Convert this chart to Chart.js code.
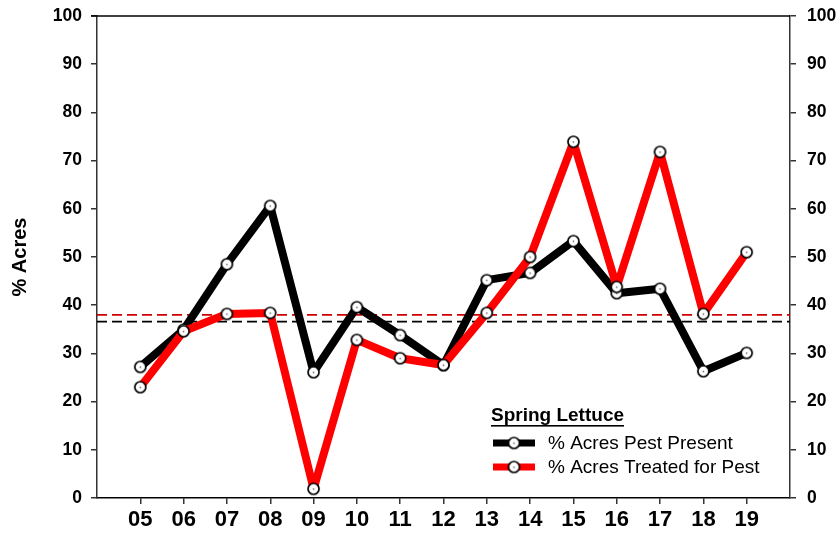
<!DOCTYPE html>
<html>
<head>
<meta charset="utf-8">
<script src="https://cdn.jsdelivr.net/npm/chart.js@4"></script>
<style>
  html, body { margin: 0; padding: 0; background: #fff; }
  #wrap { width: 840px; height: 535px; position: relative; }
</style>
</head>
<body>
<div id="wrap"><canvas id="myChart" width="840" height="535"></canvas></div>
<script>
/* data */
const years = ['05', '06', '07', '08', '09', '10', '11', '12', '13', '14', '15', '16', '17', '18', '19'];
const pestPresent = [27.2, 34.9, 48.5, 60.6, 26.1, 39.6, 33.8, 27.6, 45.2, 46.7, 53.3, 42.5, 43.4, 26.3, 30.1];
const treatedForPest = [23.0, 34.6, 38.2, 38.4, 1.9, 32.8, 29.0, 27.6, 38.4, 50.0, 73.9, 43.8, 71.8, 38.2, 51.0];
const presentAvg = 36.6;
const treatedAvg = 38.0;
const yTicks = [0, 10, 20, 30, 40, 50, 60, 70, 80, 90, 100];
const legendTitle = 'Spring Lettuce';

const FONT = '"Liberation Sans", Arial, sans-serif';
const AXIS = '#333';

function toPoints(vals) {
  return vals.map(function(v, i) { return { x: Number(years[i]), y: v }; });
}
function flat(v) {
  return [{ x: Number(years[0]) - 1, y: v }, { x: Number(years[years.length - 1]) + 1, y: v }];
}

/* marker: white circle with a tiny dot */
function makeMarker() {
  const c = document.createElement('canvas');
  c.width = 15; c.height = 15;
  const g = c.getContext('2d');
  g.beginPath();
  g.arc(7.5, 7.5, 5.5, 0, Math.PI * 2);
  g.fillStyle = '#fff';
  g.fill();
  g.lineWidth = 1.7;
  g.strokeStyle = '#000';
  g.stroke();
  g.beginPath();
  g.arc(7.5, 7.8, 0.8, 0, Math.PI * 2);
  g.fillStyle = '#444';
  g.fill();
  return c;
}
const marker = makeMarker();

/* frame + legend drawn inside chart area */
const extras = {
  id: 'extras',
  afterDraw: function(chart) {
    const ctx = chart.ctx;
    const a = chart.chartArea;
    ctx.save();
    ctx.strokeStyle = '#000';
    ctx.lineWidth = 1.5;
    ctx.beginPath();
    ctx.moveTo(a.left - 6, a.top);
    ctx.lineTo(a.right, a.top);
    ctx.stroke();

    // legend
    const lx = 491, ty = 416;
    ctx.fillStyle = '#000';
    ctx.font = 'bold 19px ' + FONT;
    ctx.textBaseline = 'middle';
    ctx.textAlign = 'left';
    ctx.fillText(legendTitle, lx, ty);
    const w = ctx.measureText(legendTitle).width;
    ctx.fillRect(lx, ty + 9, w, 1.6);

    ctx.font = '19px ' + FONT;
    chart.data.datasets.slice(0, 2).forEach(function(ds, i) {
      const y = 443 + i * 24;
      ctx.strokeStyle = ds.borderColor;
      ctx.lineWidth = 7;
      ctx.beginPath();
      ctx.moveTo(493, y);
      ctx.lineTo(535, y);
      ctx.stroke();
      ctx.drawImage(marker, 514 - 7.5, y - 7.5);
      ctx.fillStyle = '#000';
      ctx.fillText(ds.label, 548, y + 1);
    });
    ctx.restore();
  }
};

function noPad(s) {
  s.paddingTop = 0;
  s.paddingBottom = 0;
}

const ctx = document.getElementById('myChart').getContext('2d');

// eslint-disable-next-line no-undef
const chart = new Chart(ctx, {
  type: 'line',
  data: {
    datasets: [{
      label: '% Acres Pest Present',
      data: toPoints(pestPresent),
      borderColor: '#000',
      borderWidth: 8,
      pointStyle: marker,
      pointRadius: 6,
      order: 2
    },
    {
      label: '% Acres Treated for Pest',
      data: toPoints(treatedForPest),
      borderColor: '#ff0000',
      borderWidth: 8,
      pointStyle: marker,
      pointRadius: 6,
      order: 1
    },
    {
      label: 'present avg',
      data: flat(presentAvg),
      borderColor: '#000',
      borderWidth: 1.8,
      borderDash: [10, 5],
      pointRadius: 0,
      order: 4
    },
    {
      label: 'treated avg',
      data: flat(treatedAvg),
      borderColor: '#d00000',
      borderWidth: 1.8,
      borderDash: [10, 5],
      pointRadius: 0,
      order: 3
    }]
  },
  options: {
    responsive: false,
    animation: false,
    layout: { padding: { top: 16 } },
    plugins: { legend: { display: false }, tooltip: { enabled: false } },
    elements: { line: { tension: 0, borderJoinStyle: 'round' } },
    scales: {
      x: {
        type: 'linear',
        min: 4,
        max: 20,
        afterBuildTicks: function(s) { s.ticks = years.map(function(y) { return { value: Number(y) }; }); },
        afterFit: function(s) { s.height = 37; },
        ticks: {
          callback: function(v) { return String(v).padStart(2, '0'); },
          color: '#000',
          font: { family: FONT, size: 22, weight: 'bold' },
          padding: 3,
          maxRotation: 0,
          autoSkip: false
        },
        grid: { drawOnChartArea: false, tickLength: 6, color: AXIS, lineWidth: 1.5 },
        border: { color: '#000', width: 1.5 }
      },
      y: {
        position: 'left',
        min: 0,
        max: 100,
        afterBuildTicks: function(s) { s.ticks = yTicks.map(function(v) { return { value: v }; }); },
        afterFit: function(s) { s.width = 97; noPad(s); },
        title: { display: true, text: '% Acres', color: '#000', font: { family: FONT, size: 20, weight: 'bold' }, padding: { top: 8, bottom: 0 } },
        ticks: { color: '#000', font: { family: FONT, size: 17.5, weight: 'bold' }, padding: 9 },
        grid: { drawOnChartArea: false, tickLength: 6, color: AXIS, lineWidth: 1.5 },
        border: { color: AXIS, width: 1.5 }
      },
      y2: {
        position: 'right',
        min: 0,
        max: 100,
        afterBuildTicks: function(s) { s.ticks = yTicks.map(function(v) { return { value: v }; }); },
        afterFit: function(s) { s.width = 50; noPad(s); },
        ticks: { color: '#000', font: { family: FONT, size: 17.5, weight: 'bold' }, padding: 11 },
        grid: { drawOnChartArea: false, tickLength: 6, color: AXIS, lineWidth: 1.5 },
        border: { color: AXIS, width: 1.5 }
      }
    }
  },
  plugins: [extras]
});
</script>
</body>
</html>
